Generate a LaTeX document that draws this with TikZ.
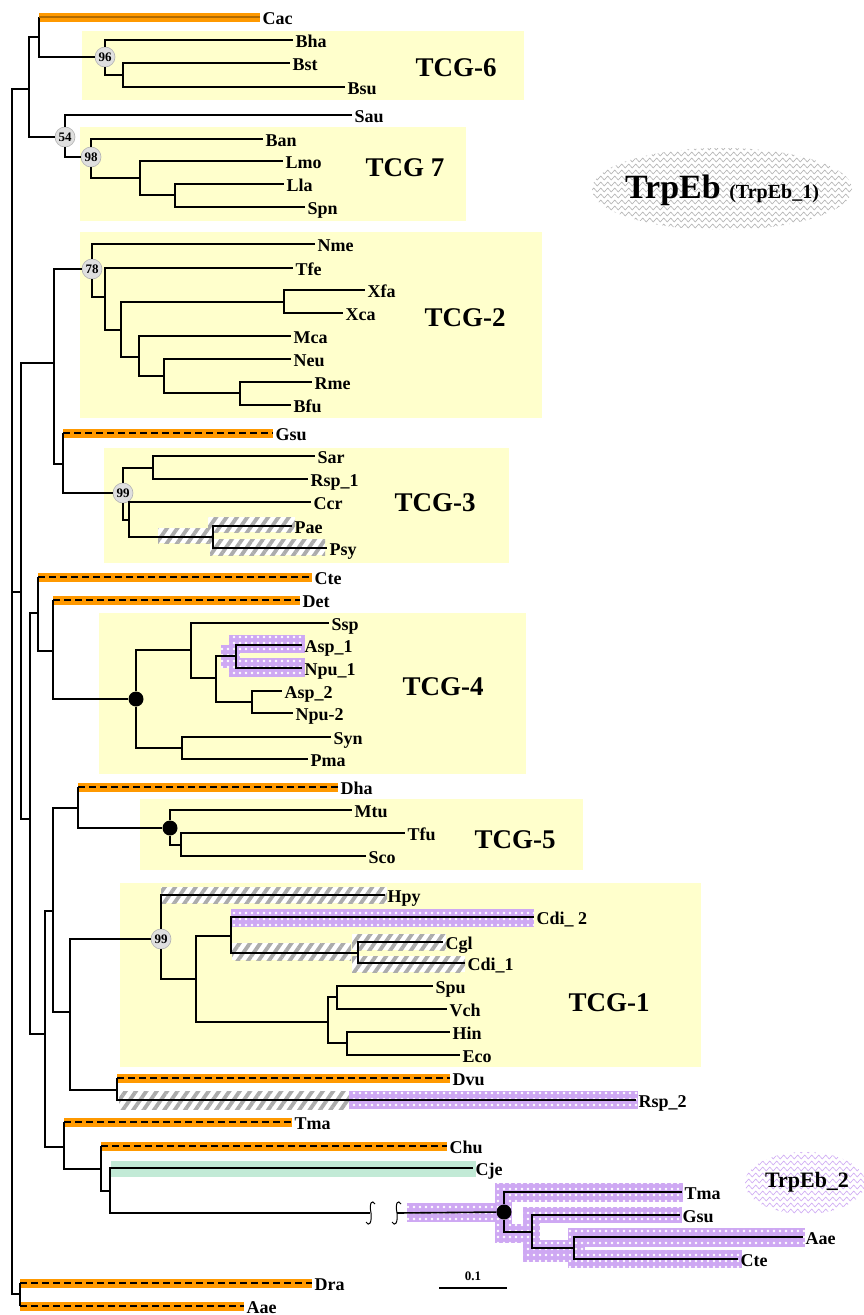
\documentclass[tikz,border=0pt]{standalone}
\usepackage{fontspec}
\setmainfont{Liberation Serif}
\usepackage{tikz}
\usetikzlibrary{calc, patterns.meta, decorations.pathmorphing}

\definecolor{tcgyellow}{RGB}{255,255,204}
\definecolor{hlorange}{RGB}{255,153,0}
\definecolor{hlgreen}{RGB}{194,234,214}
\definecolor{hlpurple}{RGB}{206,168,243}

% highlight bands behind branches
\newcommand{\orangebar}[3]{\fill[hlorange] ({#1},{#3-4.5}) rectangle ({#2},{#3+4.5});}
\newcommand{\hatchbox}[4]{\fill[white] (#1,#2) rectangle (#3,#4);
  \fill[pattern={Lines[angle=55,distance=8.5pt,line width=3.8pt]}, pattern color=gray!65] (#1,#2) rectangle (#3,#4);}
\newcommand{\purplebox}[4]{\fill[hlpurple] (#1,#2) rectangle (#3,#4);
  \fill[pattern={Dots[radius=1.4pt,distance=6pt]}, pattern color=white] (#1,#2) rectangle (#3,#4);}

\begin{document}
\begin{tikzpicture}[x=1pt, y=-1pt,
    branch/.style={line width=1.6pt},
    dashbranch/.style={line width=1.6pt, dash pattern=on 7pt off 4pt},
    cacbranch/.style={line width=1.4pt, draw=hlorange!70!black},
    leaf/.style={anchor=west, inner xsep=2.5pt, inner ysep=0pt, text height=14pt, text depth=0pt,
                 font=\bfseries\fontsize{18}{18}\selectfont},
    boot/.style={circle, fill=gray!25, draw=gray!60, line width=0.6pt, inner sep=0pt,
                 minimum size=20pt, font=\bfseries\fontsize{13}{13}\selectfont},
    blackdot/.style={circle, fill=black, inner sep=0pt, minimum size=15pt},
    tcgbox/.style={fill=tcgyellow},
    tcglabel/.style={font=\bfseries\fontsize{27}{27}\selectfont},
    zig/.style={line width=0.6pt, decorate, decoration={zigzag, segment length=7pt, amplitude=2pt}}
  ]
  \fill[white] (0,0) rectangle (863,1315);
  \useasboundingbox (0,0) rectangle (863,1315);

  % TCG boxes
  \fill[tcgbox] (82,31) rectangle (524,100);
  \fill[tcgbox] (80,127) rectangle (466,221);
  \fill[tcgbox] (80,232) rectangle (542,418);
  \fill[tcgbox] (104,448) rectangle (509,563);
  \fill[tcgbox] (99,613) rectangle (526,774);
  \fill[tcgbox] (140,799) rectangle (583,870);
  \fill[tcgbox] (120,883) rectangle (701,1067);
  \node[tcglabel] (tcg6) at (456,68) {TCG-6};
  \node[tcglabel] (tcg7) at (405,168) {TCG 7};
  \node[tcglabel] (tcg2) at (465,318) {TCG-2};
  \node[tcglabel] (tcg3) at (435,503) {TCG-3};
  \node[tcglabel] (tcg4) at (443,687) {TCG-4};
  \node[tcglabel] (tcg5) at (515,840) {TCG-5};
  \node[tcglabel] (tcg1) at (609,1003) {TCG-1};

  % TrpEb blobs
  \begin{scope}
    \clip (722,189) ellipse [x radius=130, y radius=41];
    \foreach \yy in {148,154,...,232} \draw[zig, gray!60] (585,\yy) -- (860,\yy);
  \end{scope}
  \node (trp1) at (722,190) {\bfseries\fontsize{34}{34}\selectfont TrpEb \fontsize{20}{20}\selectfont(TrpEb\_1)};
  \begin{scope}
    \clip (805,1183) ellipse [x radius=60, y radius=31];
    \foreach \yy in {1151,1157,...,1215} \draw[zig, hlpurple] (740,\yy) -- (870,\yy);
  \end{scope}
  \node (trp2) at (807,1182) {\bfseries\fontsize{22}{22}\selectfont TrpEb\_2};

  % orange, hatched, purple and green bands
  \orangebar{39}{260}{17}
  \orangebar{63}{273}{433}
  \orangebar{38}{312}{577}
  \orangebar{53}{300}{600}
  \orangebar{78}{338}{787}
  \orangebar{117}{450}{1078}
  \orangebar{64}{292}{1122}
  \orangebar{101}{447}{1146}
  \orangebar{20}{312}{1283}
  \orangebar{20}{244}{1306}
  \hatchbox{158}{528}{212}{543}
  \hatchbox{208}{517}{295}{532}
  \hatchbox{210}{539}{325}{555}
  \hatchbox{161}{887}{387}{903}
  \hatchbox{232}{943}{351}{960}
  \hatchbox{352}{934}{446}{950}
  \hatchbox{352}{956}{465}{972}
  \hatchbox{119}{1091}{349}{1109}
  \purplebox{229}{635}{305}{653}
  \purplebox{229}{658}{305}{677}
  \purplebox{221}{645}{240}{668}
  \purplebox{231}{909}{534}{927}
  \purplebox{349}{1091}{638}{1109}
  \purplebox{407}{1203}{500}{1222}
  \purplebox{495}{1183}{512}{1243}
  \purplebox{495}{1183}{683}{1202}
  \purplebox{523}{1207}{682}{1223}
  \purplebox{495}{1224}{540}{1243}
  \purplebox{523}{1207}{540}{1262}
  \purplebox{523}{1240}{585}{1262}
  \purplebox{568}{1228}{805}{1247}
  \purplebox{568}{1250}{742}{1268}
  \purplebox{568}{1228}{585}{1268}
  \fill[hlgreen] (111,1161) rectangle (476,1177);

  % inner nodes
  \coordinate (root) at (12,592);
  \coordinate (nA) at (29,89);
  \coordinate (nCB) at (39,37);
  \node[boot] (n96) at (105,57) {96};
  \coordinate (nB1) at (123,75);
  \node[boot] (n54) at (65,137) {54};
  \node[boot] (n98) at (91,157) {98};
  \coordinate (nL1) at (140,178);
  \coordinate (nL2) at (175,195);
  \coordinate (n21) at (21,592);
  \coordinate (nG) at (54,363);
  \node[boot] (n78) at (92,269) {78};
  \coordinate (nT) at (105,297);
  \coordinate (nX) at (121,330);
  \coordinate (nXa) at (284,302);
  \coordinate (nM) at (139,357);
  \coordinate (nN) at (164,376);
  \coordinate (nR) at (240,393);
  \coordinate (nG3) at (63,464);
  \node[boot] (n99a) at (123,493) {99};
  \coordinate (nS) at (153,468);
  \coordinate (nC) at (129,520);
  \coordinate (nP) at (213,537);
  \coordinate (n30) at (30,819);
  \coordinate (n38) at (38,613);
  \coordinate (n53a) at (53,651);
  \node[blackdot] (nD4) at (136,699) {};
  \coordinate (nSs) at (191,650);
  \coordinate (nAN) at (216,678);
  \coordinate (nA1) at (236,656);
  \coordinate (nA2) at (252,702);
  \coordinate (nSy) at (182,748);
  \coordinate (n45) at (45,1034);
  \coordinate (n53b) at (53,911);
  \coordinate (n78b) at (78,808);
  \node[blackdot] (nD5) at (170,828) {};
  \coordinate (nTS) at (181,845);
  \coordinate (n70) at (70,1012);
  \node[boot] (n99b) at (161,939) {99};
  \coordinate (nCV) at (196,979);
  \coordinate (nCd) at (231,936);
  \coordinate (nCg) at (358,953);
  \coordinate (nSV) at (328,1022);
  \coordinate (nSp) at (337,997);
  \coordinate (nHE) at (347,1043);
  \coordinate (nDR) at (117,1090);
  \coordinate (n64) at (64,1147);
  \coordinate (n101) at (101,1169);
  \coordinate (n110) at (110,1191);
  \coordinate (brL) at (370,1213);
  \coordinate (brR) at (397,1213);
  \node[blackdot] (nE2) at (504,1212) {};
  \coordinate (nGs) at (532,1232);
  \coordinate (nAC) at (574,1248);
  \coordinate (nDA) at (20,1294);

  % leaves
  \node[leaf] (Cac) at (260,17) {Cac};
  \node[leaf] (Bha) at (293,40) {Bha};
  \node[leaf] (Bst) at (290,63) {Bst};
  \node[leaf] (Bsu) at (345,87) {Bsu};
  \node[leaf] (Sau) at (352,115) {Sau};
  \node[leaf] (Ban) at (263,139) {Ban};
  \node[leaf] (Lmo) at (283,161) {Lmo};
  \node[leaf] (Lla) at (284,184) {Lla};
  \node[leaf] (Spn) at (305,207) {Spn};
  \node[leaf] (Nme) at (315,244) {Nme};
  \node[leaf] (Tfe) at (293,268) {Tfe};
  \node[leaf] (Xfa) at (365,290) {Xfa};
  \node[leaf] (Xca) at (343,313) {Xca};
  \node[leaf] (Mca) at (291,336) {Mca};
  \node[leaf] (Neu) at (291,359) {Neu};
  \node[leaf] (Rme) at (312,382) {Rme};
  \node[leaf] (Bfu) at (291,405) {Bfu};
  \node[leaf] (Gsu) at (273,433) {Gsu};
  \node[leaf] (Sar) at (315,456) {Sar};
  \node[leaf] (Rsp1) at (308,479) {Rsp\_1};
  \node[leaf] (Ccr) at (311,502) {Ccr};
  \node[leaf] (Pae) at (292,526) {Pae};
  \node[leaf] (Psy) at (327,548) {Psy};
  \node[leaf] (Cte) at (312,577) {Cte};
  \node[leaf] (Det) at (300,600) {Det};
  \node[leaf] (Ssp) at (329,623) {Ssp};
  \node[leaf] (Asp1) at (302,645) {Asp\_1};
  \node[leaf] (Npu1) at (302,668) {Npu\_1};
  \node[leaf] (Asp2) at (282,691) {Asp\_2};
  \node[leaf] (Npu2) at (293,713) {Npu-2};
  \node[leaf] (Syn) at (331,737) {Syn};
  \node[leaf] (Pma) at (308,759) {Pma};
  \node[leaf] (Dha) at (338,787) {Dha};
  \node[leaf] (Mtu) at (352,810) {Mtu};
  \node[leaf] (Tfu) at (405,833) {Tfu};
  \node[leaf] (Sco) at (366,856) {Sco};
  \node[leaf] (Hpy) at (385,895) {Hpy};
  \node[leaf] (Cdi2) at (534,917) {Cdi\_ 2};
  \node[leaf] (Cgl) at (443,942) {Cgl};
  \node[leaf] (Cdi1) at (465,963) {Cdi\_1};
  \node[leaf] (Spu) at (433,986) {Spu};
  \node[leaf] (Vch) at (447,1009) {Vch};
  \node[leaf] (Hin) at (450,1032) {Hin};
  \node[leaf] (Eco) at (460,1055) {Eco};
  \node[leaf] (Dvu) at (450,1078) {Dvu};
  \node[leaf] (Rsp2) at (636,1100) {Rsp\_2};
  \node[leaf] (Tma) at (292,1122) {Tma};
  \node[leaf] (Chu) at (447,1146) {Chu};
  \node[leaf] (Cje) at (473,1168) {Cje};
  \node[leaf] (TmaB) at (682,1192) {Tma};
  \node[leaf] (GsuB) at (680,1215) {Gsu};
  \node[leaf] (AaeB) at (803,1237) {Aae};
  \node[leaf] (CteB) at (738,1259) {Cte};
  \node[leaf] (Dra) at (312,1283) {Dra};
  \node[leaf] (Aae) at (244,1306) {Aae};

  % root
  \draw[branch] (root) |- (nA);
  \draw[branch] (root) -- (n21);
  \draw[branch] (root) |- (nDA);
  % TCG-6 and TCG 7
  \draw[branch] (nA) |- (nCB);
  \draw[branch] (nA) |- (n54);
  \draw[branch] (nCB) -- (nCB |- Cac.west);
  \draw[cacbranch] (nCB |- Cac.west) -- (Cac);
  \draw[branch] (nCB) |- (n96);
  \draw[branch] (n96) |- (Bha);
  \draw[branch] (n96) |- (nB1);
  \draw[branch] (nB1) |- (Bst);
  \draw[branch] (nB1) |- (Bsu);
  \draw[branch] (n54) |- (Sau);
  \draw[branch] (n54) |- (n98);
  \draw[branch] (n98) |- (Ban);
  \draw[branch] (n98) |- (nL1);
  \draw[branch] (nL1) |- (Lmo);
  \draw[branch] (nL1) |- (nL2);
  \draw[branch] (nL2) |- (Lla);
  \draw[branch] (nL2) |- (Spn);
  % TCG-2 and TCG-3
  \draw[branch] (n21) |- (nG);
  \draw[branch] (n21) |- (n30);
  \draw[branch] (nG) |- (n78);
  \draw[branch] (nG) |- (nG3);
  \draw[branch] (n78) |- (Nme);
  \draw[branch] (n78) |- (nT);
  \draw[branch] (nT) |- (Tfe);
  \draw[branch] (nT) |- (nX);
  \draw[branch] (nX) |- (nXa);
  \draw[branch] (nX) |- (nM);
  \draw[branch] (nXa) |- (Xfa);
  \draw[branch] (nXa) |- (Xca);
  \draw[branch] (nM) |- (Mca);
  \draw[branch] (nM) |- (nN);
  \draw[branch] (nN) |- (Neu);
  \draw[branch] (nN) |- (nR);
  \draw[branch] (nR) |- (Rme);
  \draw[branch] (nR) |- (Bfu);
  \draw[branch] (nG3) -- (nG3 |- Gsu.west);
  \draw[dashbranch] (nG3 |- Gsu.west) -- (Gsu);
  \draw[branch] (nG3) |- (n99a);
  \draw[branch] (n99a) |- (nS);
  \draw[branch] (n99a) |- (nC);
  \draw[branch] (nS) |- (Sar);
  \draw[branch] (nS) |- (Rsp1);
  \draw[branch] (nC) |- (Ccr);
  \draw[branch] (nC) |- (nP);
  \draw[branch] (nP) |- (Pae);
  \draw[branch] (nP) |- (Psy);
  % TCG-4
  \draw[branch] (n30) |- (n38);
  \draw[branch] (n30) |- (n45);
  \draw[branch] (n38) -- (n38 |- Cte.west);
  \draw[dashbranch] (n38 |- Cte.west) -- (Cte);
  \draw[branch] (n38) |- (n53a);
  \draw[branch] (n53a) -- (n53a |- Det.west);
  \draw[dashbranch] (n53a |- Det.west) -- (Det);
  \draw[branch] (n53a) |- (nD4);
  \draw[branch] (nD4) |- (nSs);
  \draw[branch] (nD4) |- (nSy);
  \draw[branch] (nSs) |- (Ssp);
  \draw[branch] (nSs) |- (nAN);
  \draw[branch] (nAN) |- (nA1);
  \draw[branch] (nAN) |- (nA2);
  \draw[branch] (nA1) |- (Asp1);
  \draw[branch] (nA1) |- (Npu1);
  \draw[branch] (nA2) |- (Asp2);
  \draw[branch] (nA2) |- (Npu2);
  \draw[branch] (nSy) |- (Syn);
  \draw[branch] (nSy) |- (Pma);
  % TCG-5
  \draw[branch] (n45) |- (n53b);
  \draw[branch] (n45) |- (n64);
  \draw[branch] (n53b) |- (n78b);
  \draw[branch] (n53b) |- (n70);
  \draw[branch] (n78b) -- (n78b |- Dha.west);
  \draw[dashbranch] (n78b |- Dha.west) -- (Dha);
  \draw[branch] (n78b) |- (nD5);
  \draw[branch] (nD5) |- (Mtu);
  \draw[branch] (nD5) |- (nTS);
  \draw[branch] (nTS) |- (Tfu);
  \draw[branch] (nTS) |- (Sco);
  % TCG-1
  \draw[branch] (n70) |- (n99b);
  \draw[branch] (n70) |- (nDR);
  \draw[branch] (n99b) |- (Hpy);
  \draw[branch] (n99b) |- (nCV);
  \draw[branch] (nCV) |- (nCd);
  \draw[branch] (nCV) |- (nSV);
  \draw[branch] (nCd) |- (Cdi2);
  \draw[branch] (nCd) |- (nCg);
  \draw[branch] (nCg) |- (Cgl);
  \draw[branch] (nCg) |- (Cdi1);
  \draw[branch] (nSV) |- (nSp);
  \draw[branch] (nSV) |- (nHE);
  \draw[branch] (nSp) |- (Spu);
  \draw[branch] (nSp) |- (Vch);
  \draw[branch] (nHE) |- (Hin);
  \draw[branch] (nHE) |- (Eco);
  \draw[branch] (nDR) -- (nDR |- Dvu.west);
  \draw[dashbranch] (nDR |- Dvu.west) -- (Dvu);
  \draw[branch] (nDR) |- (Rsp2);
  % lower part and TrpEb_2
  \draw[branch] (n64) -- (n64 |- Tma.west);
  \draw[dashbranch] (n64 |- Tma.west) -- (Tma);
  \draw[branch] (n64) |- (n101);
  \draw[branch] (n101) -- (n101 |- Chu.west);
  \draw[dashbranch] (n101 |- Chu.west) -- (Chu);
  \draw[branch] (n101) |- (n110);
  \draw[branch] (n110) |- (Cje);
  \draw[branch] (n110) |- (brL);
  \draw[branch] (brR) -- (nE2);
  % break marks
  \draw[line width=1pt] ($(brL)+(5,-9)$) .. controls ($(brL)+(2,-14)$) and ($(brL)+(-1,-10)$) .. ($(brL)+(1,0)$)
    .. controls ($(brL)+(2,10)$) and ($(brL)+(-1,14)$) .. ($(brL)+(-4,9)$);
  \draw[line width=1pt] ($(brR)+(4,-9)$) .. controls ($(brR)+(1,-14)$) and ($(brR)+(-2,-10)$) .. ($(brR)+(0,0)$)
    .. controls ($(brR)+(1,10)$) and ($(brR)+(-2,14)$) .. ($(brR)+(-5,9)$);
  \draw[branch] (nE2) |- (TmaB);
  \draw[branch] (nE2) |- (nGs);
  \draw[branch] (nGs) |- (GsuB);
  \draw[branch] (nGs) |- (nAC);
  \draw[branch] (nAC) |- (AaeB);
  \draw[branch] (nAC) |- (CteB);
  \draw[branch] (nDA) -- (nDA |- Dra.west);
  \draw[dashbranch] (nDA |- Dra.west) -- (Dra);
  \draw[branch] (nDA) -- (nDA |- Aae.west);
  \draw[dashbranch] (nDA |- Aae.west) -- (Aae);

  % scale bar
  \coordinate (sbL) at (439,1288);
  \coordinate (sbR) at (507,1288);
  \draw[branch] (sbL) -- (sbR) node[midway, above=3pt, font=\bfseries\fontsize{13}{13}\selectfont] (sblabel) {0.1};
\end{tikzpicture}
\end{document}
